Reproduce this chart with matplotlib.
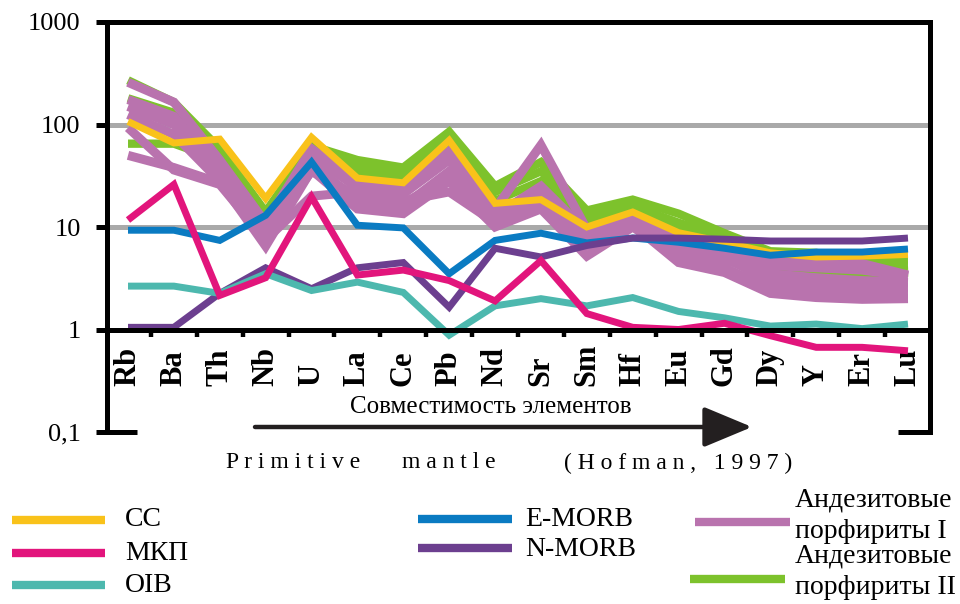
import matplotlib
matplotlib.use("Agg")
import matplotlib.pyplot as plt
from matplotlib.lines import Line2D

plt.rcParams['font.family'] = ['Liberation Serif', 'DejaVu Serif']

elements = ['Rb', 'Ba', 'Th', 'Nb', 'U', 'La', 'Ce', 'Pb', 'Nd', 'Sr',
            'Sm', 'Hf', 'Eu', 'Gd', 'Dy', 'Y', 'Er', 'Lu']

cc = [107, 66, 72, 19, 75, 30, 27, 70, 17, 18.5, 10, 14, 8.8, 7.1, 5.6, 5.1, 5.2, 5.4]
emorb = [9.3, 9.3, 7.4, 13, 43, 10.4, 9.8, 3.5, 7.4, 8.7, 7.0, 7.8, 7.1, 6.2, 5.3, 5.7, 5.7, 6.1]
nmorb = [1.05, 1.05, 2.25, 4.0, 2.5, 4.0, 4.5, 1.65, 6.2, 5.1, 6.6, 7.8, 7.8, 7.6, 7.3, 7.3, 7.3, 7.8]
mkp = [11.7, 26, 2.15, 3.2, 19.6, 3.4, 3.8, 3.0, 1.9, 4.7, 1.43, 1.05, 1.0, 1.15, 0.87, 0.67, 0.67, 0.62]
oib = [2.65, 2.65, 2.25, 3.5, 2.4, 2.9, 2.3, 0.88, 1.7, 2.0, 1.7, 2.05, 1.5, 1.3, 1.08, 1.13, 1.02, 1.13]

andesite_1_a = [258, 165, 45, 11, 58, 28, 24, 55, 15, 63, 9.5, 13, 7.8, 6.0, 5.0, 4.5, 4.4, 3.4]
andesite_1_b = [175, 120, 38, 9, 50, 24, 21, 45, 13, 25, 9, 12, 7, 5.5, 4.2, 4.0, 3.8, 3.3]
andesite_1_c = [150, 100, 32, 7.5, 42, 18, 16, 35, 11, 20, 7.5, 11, 6, 4.8, 3.5, 3.2, 3.0, 2.9]
andesite_1_d = [125, 80, 28, 6.5, 36, 15, 13.5, 28, 10, 15, 5.2, 10, 5, 4.0, 2.5, 2.3, 2.2, 2.2]
andesite_1_e = [93, 36, 26, 7.5, 20, 22, 18, 22, 11, 17, 6.5, 10.5, 4.5, 3.6, 2.25, 2.05, 1.97, 2.0]
andesite_1_f = [50, 38, 27, 9, 35, 20, 17, 30, 12.5, 22, 8, 12, 6.5, 5, 3.0, 2.7, 2.6, 2.6]

andesite_2_a = [270, 165, 58, 14, 62, 45, 38, 85, 25, 43, 14.5, 18.5, 13.5, 8.7, 5.8, 5.6, 4.7, 4.7]
andesite_2_b = [180, 130, 50, 13, 55, 38, 33, 75, 22, 35, 12.5, 16, 11, 8, 4.6, 4.3, 4.0, 4.2]
andesite_2_c = [65, 65, 45, 12, 50, 32, 28, 65, 18, 28, 11, 14, 10, 7, 3.8, 3.6, 3.3, 3.6]

ytick_vals = [0.1, 1, 10, 100, 1000]
ytick_labels = ['0,1', '1', '10', '100', '1000']

C_CC = '#F9C21A'
C_MKP = '#E2157C'
C_OIB = '#4DB8AE'
C_EM = '#0A7BC2'
C_NM = '#6C3F8F'
C_A1 = '#B973AE'
C_A2 = '#7DC22C'
C_GRID = '#A9A9A9'

W, H = 960, 604
fig = plt.figure(figsize=(W / 100, H / 100), dpi=100)
ax = fig.add_axes([107 / W, 1 - 432 / H, (930 - 107) / W, (432 - 22) / H])
ax.set_yscale('log')
ax.set_ylim(0.1, 1000)
ax.set_xlim(-0.458, 17.48)

x = list(range(len(elements)))
kw = dict(solid_joinstyle='miter', solid_capstyle='butt')

# gridlines
for g in [10, 100]:
    ax.axhline(g, color=C_GRID, lw=3.6, zorder=1)

for s in [andesite_2_a, andesite_2_b, andesite_2_c]:
    ax.plot(x, s, color=C_A2, lw=6, zorder=2, **kw)
for s in [andesite_1_a, andesite_1_b, andesite_1_c, andesite_1_d, andesite_1_e, andesite_1_f]:
    ax.plot(x, s, color=C_A1, lw=6.5, zorder=3, **kw)
ax.plot(x, cc, color=C_CC, lw=5, zorder=4, **kw)
ax.plot(x, emorb, color=C_EM, lw=5, zorder=5, **kw)
ax.plot(x, nmorb, color=C_NM, lw=5, zorder=5, **kw)
ax.plot(x, oib, color=C_OIB, lw=5, zorder=6, **kw)
ax.plot(x, mkp, color=C_MKP, lw=5, zorder=7, **kw)

# frame
ax.spines['bottom'].set_visible(False)
for side in ['left', 'top', 'right']:
    ax.spines[side].set_linewidth(3.6)
    ax.spines[side].set_color('black')
ax.axhline(1, color='black', lw=3.6, zorder=8)
xl = ax.get_xlim()
ax.plot([xl[0], xl[0] + 30 / 45.88], [0.1, 0.1], color='black', lw=3.6, clip_on=False, solid_capstyle='butt')
ax.plot([xl[1] - 32 / 45.88, xl[1]], [0.1, 0.1], color='black', lw=3.6, clip_on=False, solid_capstyle='butt')
for i in range(len(elements) - 1):
    ax.plot([i + 0.5, i + 0.5], [1, 0.85], color='black', lw=3.2, zorder=8, solid_capstyle='butt')

ax.set_xticks([])
ax.set_yticks(ytick_vals)
ax.set_yticklabels(ytick_labels, fontsize=19)
ax.minorticks_off()
ax.tick_params(axis='y', direction='out', length=8, width=3.6, pad=11)

for i, el in enumerate(elements):
    ax.text(i, (432 - 386) / 410, el, transform=ax.get_xaxis_transform(), rotation=90,
            ha='center', va='bottom', fontsize=22, fontweight='bold')

# arrow and captions
ax.annotate('', xy=(752, H - 427), xytext=(255, H - 427), xycoords='figure pixels',
            textcoords='figure pixels',
            arrowprops=dict(arrowstyle='-|>,head_length=1.2,head_width=0.5', lw=3.2,
                            color='#231F20', mutation_scale=25, shrinkA=0, shrinkB=0))
fig.text(491 / W, 1 - 407 / H, 'Совместимость элементов', ha='center', va='center', fontsize=18)
fig.text(293 / W, 1 - 463 / H, 'P r i m i t i v e', ha='center', va='center', fontsize=17)
fig.text(449 / W, 1 - 463 / H, 'm a n t l e', ha='center', va='center', fontsize=17)
fig.text(678 / W, 1 - 463 / H, '( H o f m a n ,   1 9 9 7 )', ha='center', va='center', fontsize=17)

# legend
legend_items = [
    (12, 105, 520, C_CC, 125, [('CC', 520)]),
    (12, 105, 553, C_MKP, 125, [('МКП', 553)]),
    (12, 105, 585, C_OIB, 125, [('OIB', 585)]),
    (418, 512, 519, C_EM, 525, [('E-MORB', 519)]),
    (418, 512, 548, C_NM, 525, [('N-MORB', 549)]),
    (695, 790, 522, C_A1, 795, [('Андезитовые', 500), ('порфириты I', 531)]),
    (690, 785, 579, C_A2, 795, [('Андезитовые', 556), ('порфириты II', 588)]),
]
for x0, x1, yl, col, xt, texts in legend_items:
    fig.add_artist(Line2D([x0 / W, x1 / W], [1 - yl / H, 1 - yl / H], color=col, lw=6,
                          solid_capstyle='butt', transform=fig.transFigure))
    for t, yt in texts:
        fig.text(xt / W, 1 - yt / H, t, ha='left', va='center', fontsize=20)

fig.savefig('out.png', dpi=100)
